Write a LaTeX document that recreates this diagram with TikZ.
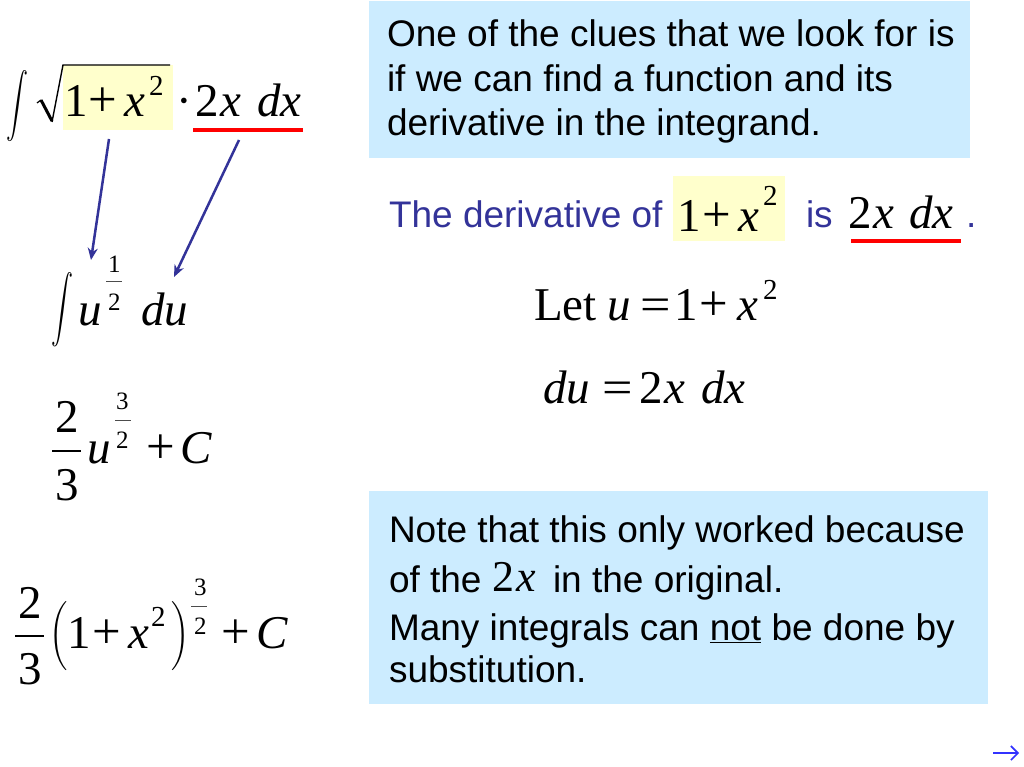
\documentclass[tikz,border=0pt]{standalone}
\usepackage{fontspec}
\setmainfont{Liberation Sans}
\newfontfamily\ser{Liberation Serif}
\usetikzlibrary{arrows.meta}
\definecolor{boxblue}{HTML}{CCECFF}
\definecolor{hiyellow}{HTML}{FFFFCC}
\definecolor{navy}{HTML}{333399}
\definecolor{redline}{HTML}{FF0000}
\definecolor{navblue}{HTML}{3333FF}
\newcommand{\sz}[1]{\fontsize{#1}{#1}\selectfont}
\newcommand{\wideeq}{\scalebox{1.15}[1]{=}}
\newcommand{\wideplus}{\scalebox{1.08}{+}}
\tikzset{
  x=1pt,y=-1pt,
  every node/.style={inner sep=0pt,outer sep=0pt,anchor=base west},
  para/.style={font=\sz{37}},
  paranavy/.style={font=\sz{37},text=navy},
  mth/.style={font=\ser\sz{47}},
  mit/.style={font=\ser\itshape\sz{47}},
  sup/.style={font=\ser\sz{29}},
  tiny/.style={font=\ser\sz{25}},
  integ/.style={anchor=center},
  paren/.style={anchor=center},
  fracbar/.style={line width=1.8pt,black},
  smallbar/.style={line width=0.8pt,black!70},
  redbar/.style={line width=3.5pt,redline},
  conn/.style={line width=2.5pt,navy,-{Stealth[length=12pt,width=10pt]}},
  fillblue/.style={fill=boxblue,draw=none},
  fillyellow/.style={fill=hiyellow,draw=none},
}
\begin{document}
\begin{tikzpicture}
\useasboundingbox (0,0) rectangle (1024,767);
\fill[white] (0,0) rectangle (1024,767);
% panels
\fill[fillblue] (369,1) rectangle (970,158);
\fill[fillblue] (369,491) rectangle (988,704);
\fill[fillyellow] (63,65) rectangle (173,130);
\fill[fillyellow] (673,176) rectangle (785,241);
% top-left expression
\node[integ] (i1) at (17,106) {\scalebox{2.2}[3.2]{$\displaystyle\int$}};
\draw[line width=1.2pt,black] (37,103) -- (41,100);
\draw[line width=3pt,black] (41,100) -- (52,121);
\draw[line width=1.4pt,black,line join=miter] (52,122) -- (63,65) -- (170,65);
\node[mth] (e1a) at (64,117) {1};
\node[mth] (e1b) at (88,117) {\wideplus};
\node[mit] (e1c) at (124,117) {x};
\node[sup] (e1d) at (149,96) {2};
\node[mth] (e1e) at (176,117) {·};
\node[mth] (e1f) at (195,117) {2};
\node[mit] (e1g) at (220,117) {x};
\node[mit] (e1h) at (257,117) {dx};
\draw[redbar] (193,130) -- (303,130);
% second expression
\node[integ] (i2) at (62,310) {\scalebox{2.2}[3.35]{$\displaystyle\int$}};
\node[mit] (e2a) at (78,325) {u};
\node[tiny] (e2b) at (108,272) {1};
\draw[smallbar] (106,281) -- (122,281);
\node[tiny] (e2c) at (108,310) {2};
\node[mit] (e2d) at (141,325) {du};
\coordinate (a1s) at (109,139);
\coordinate (a1e) at (91,260);
\coordinate (a2s) at (239,140);
\coordinate (a2e) at (174,277);
\draw[conn] (a1s) -- (a1e);
\draw[conn] (a2s) -- (a2e);
% third expression
\node[mth] (e3a) at (55,432) {2};
\draw[fracbar] (52,451) -- (81,451);
\node[mth] (e3b) at (55,500) {3};
\node[mit] (e3c) at (87,463) {u};
\node[tiny] (e3d) at (116,409) {3};
\draw[smallbar] (115,420) -- (131,420);
\node[tiny] (e3e) at (116,448) {2};
\node[mth] (e3f) at (146,463) {\wideplus};
\node[mit] (e3g) at (180,463) {C};
% fourth expression
\node[mth] (e4a) at (18,618) {2};
\draw[fracbar] (15,636) -- (44,636);
\node[mth] (e4b) at (18,684) {3};
\node[paren] (e4c) at (59,636) {\scalebox{2.3}{$\Bigg($}};
\node[mth] (e4d) at (67,648) {1};
\node[mth] (e4e) at (92,648) {\wideplus};
\node[mit] (e4f) at (128,648) {x};
\node[sup] (e4g) at (151,626) {2};
\node[paren] (e4h) at (181,636) {\scalebox{2.3}{$\Bigg)$}};
\node[tiny] (e4i) at (194,595) {3};
\draw[smallbar] (191,606) -- (207,606);
\node[tiny] (e4j) at (194,634) {2};
\node[mth] (e4k) at (221,648) {\wideplus};
\node[mit] (e4l) at (256,648) {C};
% top text
\node[para] (t1) at (387,47) {One of the clues that we look for is};
\node[para] (t2) at (387,92) {if we can find a function and its};
\node[para] (t3) at (387,136) {derivative in the integrand.};
% derivative line
\node[paranavy] (d1) at (389,228) {The derivative of};
\node[mth] (d2) at (677,232) {1};
\node[mth] (d3) at (702,232) {\wideplus};
\node[mit] (d4) at (738,232) {x};
\node[sup] (d5) at (763,206) {2};
\node[paranavy] (d6) at (806,228) {is};
\node[mth] (d7) at (848,229) {2};
\node[mit] (d8) at (873,229) {x};
\node[mit] (d9) at (909,229) {dx};
\node[paranavy] (d10) at (966,228) {.};
\draw[redbar] (851,241) -- (961,241);
% let
\node[mth] (l1) at (534,320) {Let};
\node[mit] (l2) at (607,320) {u};
\node[mth] (l3) at (640,320) {\wideeq};
\node[mth] (l4) at (674,320) {1};
\node[mth] (l5) at (699,320) {\wideplus};
\node[mit] (l6) at (737,320) {x};
\node[sup] (l7) at (763,299) {2};
\node[mit] (m1) at (543,403) {du};
\node[mth] (m2) at (602,403) {\wideeq};
\node[mth] (m3) at (639,403) {2};
\node[mit] (m4) at (664,403) {x};
\node[mit] (m5) at (701,403) {dx};
% bottom text
\node[para] (b1) at (389,542) {Note that this only worked because};
\node[para] (b2) at (389,592) {of the};
\node[mth,font=\ser\sz{44}] (b3) at (492,591) {2};
\node[mit,font=\ser\itshape\sz{44}] (b4) at (516,591) {x};
\node[para] (b5) at (553,592) {in the original.};
\node[para] (b6) at (389,640) {Many integrals can \underline{not} be done by};
\node[para] (b7) at (389,682) {substitution.};
% navigation arrow
\coordinate (n1) at (993,753);
\coordinate (n2) at (1019,753);
\draw[line width=1.6pt,navblue,-{Straight Barb[length=7pt,width=14pt]}] (n1) -- (n2);
\end{tikzpicture}
\end{document}
